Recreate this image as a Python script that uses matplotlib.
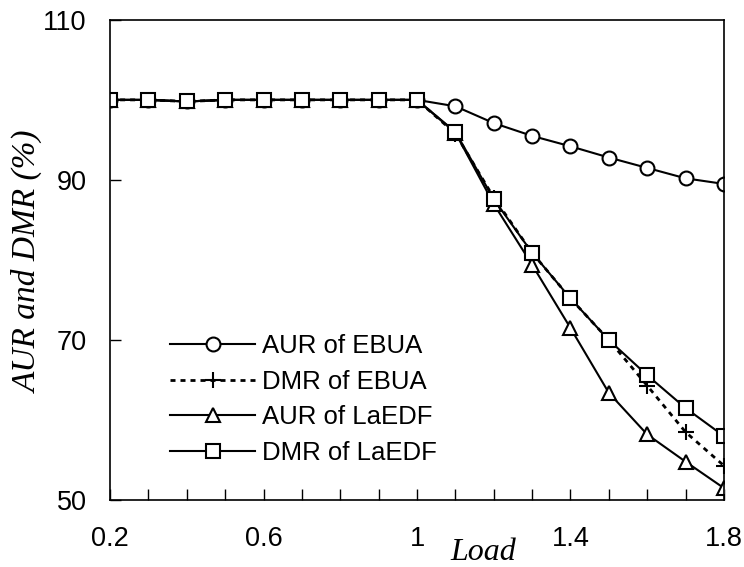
import matplotlib.pyplot as plt
import numpy as np

load = [0.2, 0.3, 0.4, 0.5, 0.6, 0.7, 0.8, 0.9, 1.0,
        1.1, 1.2, 1.3, 1.4, 1.5, 1.6, 1.7, 1.8]

aur_ebua = [100, 100, 99.8, 100, 100, 100, 100, 100, 100,
            99.2, 97.1, 95.5, 94.2, 92.8, 91.5, 90.2, 89.5]
dmr_ebua = [100, 100, 99.8, 100, 100, 100, 100, 100, 100,
            95.8, 87.8, 80.9, 75.2, 70.0, 64.3, 58.5, 54.3]
aur_laedf = [100, 100, 99.8, 100, 100, 100, 100, 100, 100,
             95.9, 87.0, 79.4, 71.5, 63.4, 58.2, 54.8, 51.5]
dmr_laedf = [100, 100, 99.8, 100, 100, 100, 100, 100, 100,
             96.0, 87.6, 80.9, 75.2, 70.0, 65.6, 61.5, 58.0]

xticks = [0.2, 0.6, 1, 1.4, 1.8]
xtick_labels = ['0.2', '0.6', '1', '1.4', '1.8']
yticks = [50, 70, 90, 110]

plt.rcParams['font.family'] = ['Liberation Sans', 'DejaVu Sans']

fig = plt.figure(figsize=(7.44, 5.67), dpi=100)
ax = fig.add_axes([0.148, 0.118, 0.825, 0.847])

mk = dict(markerfacecolor='white', markeredgecolor='black', markeredgewidth=1.5)
ax.plot(load, aur_ebua, '-', color='black', lw=1.5, marker='o', markersize=10, label='AUR of EBUA', **mk)
ax.plot(load, dmr_ebua, linestyle=(0, (1.8, 1.8)), color='black', lw=2, marker='+',
        markersize=12, label='DMR of EBUA', **mk)
ax.plot(load, aur_laedf, '-', color='black', lw=1.5, marker='^', markersize=10, label='AUR of LaEDF', **mk)
ax.plot(load, dmr_laedf, '-', color='black', lw=1.5, marker='s', markersize=9.5, label='DMR of LaEDF', **mk)

ax.set_xlim(0.2, 1.8)
ax.set_ylim(50, 110)
ax.set_xticks(xticks)
ax.set_xticklabels(xtick_labels)
ax.set_xticks(np.arange(0.2, 1.81, 0.1), minor=True)
ax.set_yticks(yticks)
ax.tick_params(axis='both', which='both', direction='in', length=8, width=1,
               labelsize=19.5)
ax.tick_params(axis='x', which='major', pad=19)
ax.tick_params(axis='y', which='major', pad=17)
for s in ax.spines.values():
    s.set_linewidth(1.2)

ax.set_ylabel('AUR and DMR (%)', family='Liberation Serif', style='italic',
              fontsize=24, va='center')
ax.yaxis.set_label_coords(-0.134, 0.496)
ax.set_xlabel('Load', family='Liberation Serif', style='italic', fontsize=23,
              va='baseline')
ax.xaxis.set_label_coords(0.608, -0.125)

ax.legend(loc='lower left', bbox_to_anchor=(0.081, 0.052), frameon=False,
          fontsize=18.5, handlelength=3.3, handletextpad=0.27, labelspacing=0.45,
          borderaxespad=0)

fig.savefig('out.png', dpi=100)
